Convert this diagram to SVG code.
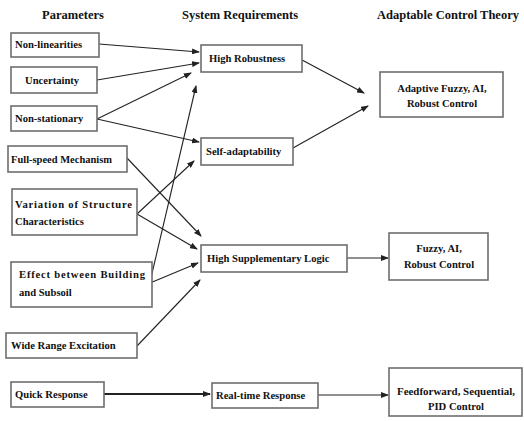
<svg xmlns="http://www.w3.org/2000/svg" width="524" height="421" viewBox="0 0 524 421">
<style>
.bx{fill:#fff;stroke:#6e6e6e;stroke-width:1.6}
.t{font-family:"Liberation Serif","Times New Roman",serif;font-weight:bold;font-size:10.6px;fill:#111}
.h{font-family:"Liberation Serif","Times New Roman",serif;font-weight:bold;font-size:12.5px;fill:#111}
.c{text-anchor:middle}
.ln{stroke:#222;stroke-width:1.1;fill:none;marker-end:url(#ah)}
</style>
<defs>
<marker id="ah" markerWidth="8" markerHeight="6" refX="7" refY="3" orient="auto" markerUnits="userSpaceOnUse">
<path d="M0,0 L8,3 L0,6 z" fill="#222"/>
</marker>
</defs>
<rect width="524" height="421" fill="#fff"/>
<g id="headers">
<text class="h c" x="73" y="19">Parameters</text>
<text class="h c" x="240" y="19">System Requirements</text>
<text class="h c" x="448" y="19">Adaptable Control Theory</text>
</g>
<g id="connectors">
<line class="ln" x1="99" y1="44" x2="199" y2="52"/>
<line class="ln" x1="97" y1="80" x2="199" y2="63"/>
<line class="ln" x1="97" y1="119" x2="191" y2="73"/>
<line class="ln" x1="97" y1="119" x2="199" y2="142"/>
<line class="ln" x1="127" y1="158" x2="201" y2="236"/>
<line class="ln" x1="137" y1="214" x2="194" y2="161"/>
<line class="ln" x1="137" y1="214" x2="197" y2="249"/>
<line class="ln" x1="150" y1="282" x2="196" y2="86"/>
<line class="ln" x1="150" y1="283" x2="198" y2="263"/>
<line class="ln" x1="137" y1="346" x2="200" y2="280"/>
<line class="ln" x1="104" y1="394" x2="210" y2="394" style="stroke-width:2.2"/>
<line class="ln" x1="302" y1="60" x2="364" y2="93"/>
<line class="ln" x1="293" y1="148" x2="368" y2="106"/>
<line class="ln" x1="347" y1="258" x2="388" y2="258"/>
<line class="ln" x1="318" y1="395" x2="388" y2="395"/>
</g>
<g id="p1"><rect class="bx" x="11" y="33" width="88" height="24"/><text class="t" x="15" y="48">Non-linearities</text></g>
<g id="p2"><rect class="bx" x="11" y="67" width="86" height="26"/><text class="t" x="25" y="84">Uncertainty</text></g>
<g id="p3"><rect class="bx" x="11" y="106" width="86" height="25"/><text class="t" x="15" y="122">Non-stationary</text></g>
<g id="p4"><rect class="bx" x="8" y="146" width="119" height="26"/><text class="t" x="11" y="163" textLength="101" lengthAdjust="spacingAndGlyphs">Full-speed Mechanism</text></g>
<g id="p5"><rect class="bx" x="12" y="189" width="125" height="46"/><text class="t" x="15" y="208" textLength="117" lengthAdjust="spacing">Variation of Structure</text><text class="t" x="15" y="225">Characteristics</text></g>
<g id="p6"><rect class="bx" x="11" y="262" width="141" height="45"/><text class="t" x="19" y="278" textLength="126" lengthAdjust="spacing">Effect between Building</text><text class="t" x="19" y="296">and Subsoil</text></g>
<g id="p7"><rect class="bx" x="6" y="333" width="131" height="25"/><text class="t" x="11" y="349">Wide Range Excitation</text></g>
<g id="p8"><rect class="bx" x="11" y="382" width="93" height="25"/><text class="t" x="15" y="398">Quick Response</text></g>
<g id="r1"><rect class="bx" x="201" y="45" width="101" height="27"/><text class="t" x="209" y="62">High Robustness</text></g>
<g id="r2"><rect class="bx" x="201" y="138" width="92" height="27"/><text class="t" x="206" y="155">Self-adaptability</text></g>
<g id="r3"><rect class="bx" x="201" y="245" width="146" height="27"/><text class="t" x="207" y="262">High Supplementary Logic</text></g>
<g id="r4"><rect class="bx" x="212" y="383" width="106" height="25"/><text class="t" x="216" y="399">Real-time Response</text></g>
<g id="c1"><rect class="bx" x="380" y="72" width="123" height="45"/><text class="t c" x="442" y="92">Adaptive Fuzzy, AI,</text><text class="t c" x="442" y="107">Robust Control</text></g>
<g id="c2"><rect class="bx" x="389" y="233" width="99" height="47"/><text class="t c" x="439" y="252">Fuzzy, AI,</text><text class="t c" x="439" y="268">Robust Control</text></g>
<g id="c3"><rect class="bx" x="389" y="368" width="133" height="48"/><text class="t c" x="456" y="395" textLength="118" lengthAdjust="spacingAndGlyphs">Feedforward, Sequential,</text><text class="t c" x="456" y="410">PID Control</text></g>
</svg>
